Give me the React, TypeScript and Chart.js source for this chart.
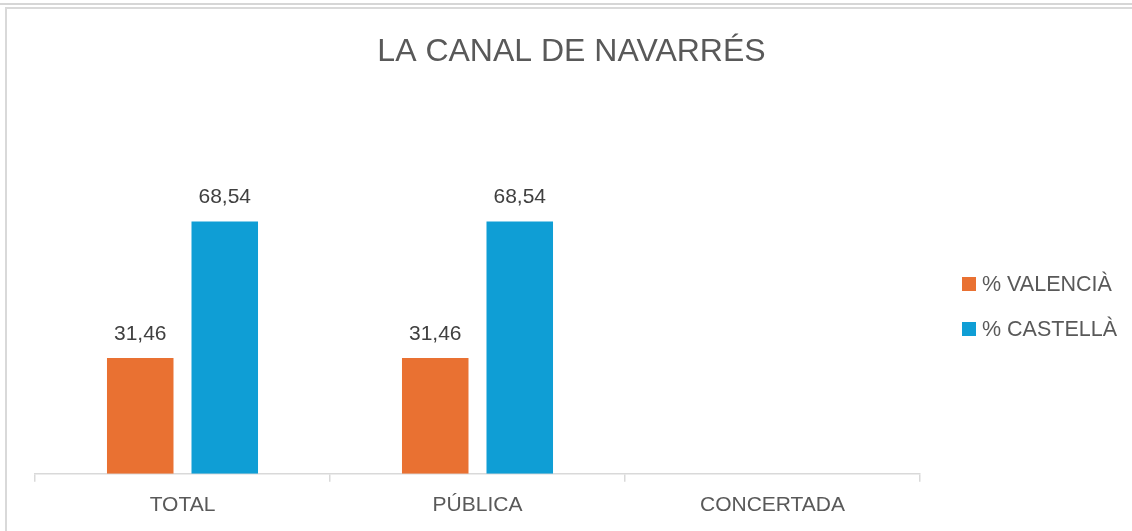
import React, { useEffect, useRef } from "react";
import { Chart, registerables } from "chart.js";

Chart.register(...registerables);

const chartTitle = "LA CANAL DE NAVARRÉS";
const categories = ["TOTAL", "PÚBLICA", "CONCERTADA"];
const seriesNames = ["% VALENCIÀ", "% CASTELLÀ"];
const valenciaValues: (number | null)[] = [31.46, 31.46, null];
const castellaValues: (number | null)[] = [68.54, 68.54, null];
const seriesColors = ["#E97132", "#0F9ED5"];
const yMin = 0;
const yMax = 80;

const FONT = "'Liberation Sans', Arial, Helvetica, sans-serif";
const TEXT = "#595959";

const fmt = (v: number) => v.toFixed(2).replace(".", ",");

const dataLabelPlugin = {
  id: "dataLabels",
  afterDatasetsDraw(chart: any) {
    const ctx = chart.ctx;
    ctx.save();
    ctx.font = `21px ${FONT}`;
    ctx.fillStyle = "#404040";
    ctx.textAlign = "center";
    ctx.textBaseline = "alphabetic";
    chart.data.datasets.forEach((ds: any, di: number) => {
      const meta = chart.getDatasetMeta(di);
      meta.data.forEach((bar: any, i: number) => {
        const v = ds.data[i];
        if (v == null) return;
        ctx.fillText(fmt(v), bar.x, bar.y - 18.5);
      });
    });
    ctx.restore();
  },
};

const sideLegendPlugin = {
  id: "sideLegend",
  afterDraw(chart: any) {
    const ctx = chart.ctx;
    const area = chart.chartArea;
    const boxX = area.right + 42;
    const firstCenter = 284;
    const step = 45;
    const box = 14;
    ctx.save();
    ctx.font = `21.5px ${FONT}`;
    ctx.textAlign = "left";
    ctx.textBaseline = "alphabetic";
    chart.data.datasets.forEach((ds: any, i: number) => {
      const cy = firstCenter + i * step;
      ctx.fillStyle = ds.backgroundColor;
      ctx.fillRect(boxX, cy - box / 2, box, box);
      ctx.fillStyle = TEXT;
      ctx.fillText(ds.label, boxX + box + 6, cy + 6.5);
    });
    ctx.restore();
  },
};

export default function App() {
  const ref = useRef<HTMLCanvasElement | null>(null);

  useEffect(() => {
    if (!ref.current) return;
    const chart = new Chart(ref.current, {
      type: "bar",
      data: {
        labels: categories,
        datasets: [
          {
            label: seriesNames[0],
            data: valenciaValues,
            backgroundColor: seriesColors[0],
            categoryPercentage: 0.573,
            barPercentage: 0.787,
          },
          {
            label: seriesNames[1],
            data: castellaValues,
            backgroundColor: seriesColors[1],
            categoryPercentage: 0.573,
            barPercentage: 0.787,
          },
        ],
      },
      options: {
        responsive: false,
        animation: false,
        devicePixelRatio: 1,
        layout: { padding: { top: 0, left: 11, right: 0, bottom: 2 } },
        plugins: {
          legend: { display: false },
          tooltip: { enabled: false },
          title: {
            display: true,
            text: chartTitle,
            color: TEXT,
            font: { family: FONT, size: 32, weight: "normal" },
            padding: { top: 33, bottom: 108 },
          },
        },
        scales: {
          x: {
            grid: {
              display: true,
              drawOnChartArea: false,
              drawTicks: true,
              tickLength: 8,
              color: "#d9d9d9",
              lineWidth: 1.5,
            },
            border: { display: true, color: "#d9d9d9", width: 1.5 },
            ticks: {
              color: TEXT,
              font: { family: FONT, size: 21 },
              padding: 11,
            },
          },
          y: {
            min: yMin,
            max: yMax,
            position: "left",
            grid: { display: false },
            border: { display: false },
            ticks: { display: false },
            afterFit: (s: any) => {
              s.width = 24;
            },
          },
          yRight: {
            type: "linear",
            min: yMin,
            max: yMax,
            position: "right",
            grid: { display: false },
            border: { display: false },
            ticks: { display: false },
            afterFit: (s: any) => {
              s.width = 212;
            },
          },
        },
      },
      plugins: [dataLabelPlugin, sideLegendPlugin],
    } as any);
    return () => chart.destroy();
  }, []);

  return (
    <div style={{ position: "fixed", left: 0, top: 0, width: 1132, height: 531, background: "#fff", overflow: "hidden" }}>
      <div style={{ position: "absolute", left: 0, top: 3, width: 1132, height: 1.5, background: "#d6d6d6" }} />
      <div style={{ position: "absolute", left: 5, top: 7, width: 1127, height: 1.5, background: "#d9d9d9" }} />
      <div style={{ position: "absolute", left: 5, top: 7, width: 1.5, height: 524, background: "#d9d9d9" }} />
      <canvas
        ref={ref}
        width={1132}
        height={531}
        style={{ position: "absolute", left: 0, top: 0, width: 1132, height: 531, display: "block" }}
      />
    </div>
  );
}
